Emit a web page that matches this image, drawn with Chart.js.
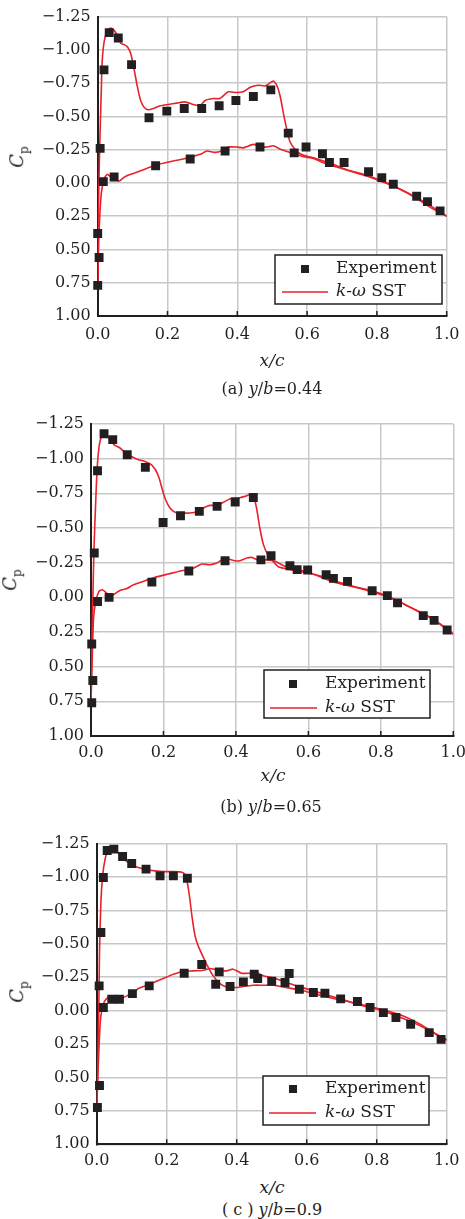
<!DOCTYPE html>
<html>
<head>
<meta charset="utf-8">
<script src="https://cdn.jsdelivr.net/npm/chart.js@4.4.1/dist/chart.umd.min.js"></script>
<style>
  body { margin: 0; background: #fff; width: 465px; height: 1219px; position: relative; overflow: hidden;
         font-family: "DejaVu Serif", serif; color: #231f20; }
  canvas { position: absolute; left: 0; display: block; }
  .t { position: absolute; white-space: nowrap; line-height: 1; transform: translate(-50%, -50%); }
  .cap { font-size: 16px; }
  .xt { font-size: 17px; font-style: italic; }
  .yt { font-size: 18px; transform: translate(-50%, -50%) rotate(-90deg); }
  .yt sub { font-size: 12px; font-style: normal; }
</style>
</head>
<body>
<canvas id="cA" width="465" height="350" style="top:0px"></canvas>
<canvas id="cB" width="465" height="370" style="top:400px"></canvas>
<canvas id="cC" width="465" height="352" style="top:820px"></canvas>

<div class="t yt" style="left:19px;top:157px"><i>C</i><sub>p</sub></div>
<div class="t xt" style="left:272px;top:360px">x/c</div>
<div class="t cap" style="left:272px;top:389px">(a) <i>y</i>/<i>b</i>=0.44</div>

<div class="t yt" style="left:12px;top:580px"><i>C</i><sub>p</sub></div>
<div class="t xt" style="left:273px;top:775px">x/c</div>
<div class="t cap" style="left:271px;top:807px">(b) <i>y</i>/<i>b</i>=0.65</div>

<div class="t yt" style="left:19px;top:992px"><i>C</i><sub>p</sub></div>
<div class="t xt" style="left:272px;top:1187px">x/c</div>
<div class="t cap" style="left:272px;top:1210px">( c ) <i>y</i>/<i>b</i>=0.9</div>

<script>
// axis ticks
const xTicks = [0, 0.2, 0.4, 0.6, 0.8, 1.0];
const yTicks = [-1.25, -1.0, -0.75, -0.5, -0.25, 0, 0.25, 0.5, 0.75, 1.0];
const legendLabels = ['Experiment', 'k-ω SST'];

// (a) y/b = 0.44
const expA_x  = [0.000, 0.004, 0.000, 0.007, 0.016, 0.018, 0.033, 0.047, 0.059, 0.097, 0.147, 0.166, 0.198, 0.248, 0.265, 0.298, 0.348, 0.365, 0.396, 0.446, 0.465, 0.496, 0.546, 0.563, 0.597, 0.644, 0.664, 0.706, 0.776, 0.814, 0.847, 0.914, 0.945, 0.981];
const expA_cp = [0.77, 0.56, 0.38, -0.26, -0.01, -0.85, -1.13, -0.045, -1.09, -0.89, -0.49, -0.13, -0.54, -0.56, -0.18, -0.56, -0.58, -0.24, -0.62, -0.65, -0.27, -0.70, -0.375, -0.226, -0.27, -0.22, -0.154, -0.154, -0.085, -0.04, 0.01, 0.10, 0.14, 0.21];
const upA_x  = [0, 0.001, 0.003, 0.006, 0.010, 0.013, 0.019, 0.028, 0.037, 0.047, 0.056, 0.066, 0.076, 0.086, 0.095, 0.104, 0.114, 0.123, 0.133, 0.145, 0.160, 0.179, 0.202, 0.226, 0.250, 0.274, 0.293, 0.308, 0.331, 0.350, 0.374, 0.398, 0.417, 0.437, 0.460, 0.480, 0.503, 0.513, 0.523, 0.532, 0.542, 0.551, 0.566, 0.580, 0.600, 0.618, 0.647, 0.675, 0.714, 0.762, 0.800, 0.838, 0.876, 0.914, 0.953, 1.0];
const upA_cp = [0.756, 0.445, 0.072, -0.30, -0.67, -0.92, -1.07, -1.147, -1.164, -1.147, -1.11, -1.05, -1.04, -1.02, -0.97, -0.86, -0.72, -0.62, -0.57, -0.55, -0.56, -0.58, -0.59, -0.60, -0.61, -0.59, -0.58, -0.62, -0.635, -0.635, -0.685, -0.68, -0.685, -0.72, -0.735, -0.73, -0.766, -0.735, -0.65, -0.525, -0.40, -0.31, -0.25, -0.22, -0.20, -0.19, -0.165, -0.14, -0.10, -0.065, -0.03, 0.01, 0.06, 0.11, 0.17, 0.25];
const loA_x  = [0, 0.003, 0.007, 0.012, 0.020, 0.028, 0.037, 0.050, 0.062, 0.074, 0.088, 0.102, 0.121, 0.145, 0.169, 0.207, 0.245, 0.274, 0.298, 0.312, 0.336, 0.355, 0.374, 0.398, 0.417, 0.446, 0.465, 0.484, 0.503, 0.522, 0.551, 0.570, 0.590, 0.618, 0.647, 0.685, 0.723, 0.771, 0.809, 0.847, 0.885, 0.924, 0.962, 1.0];
const loA_cp = [0.756, 0.445, 0.197, 0.047, -0.04, -0.065, -0.047, -0.027, -0.015, -0.04, -0.06, -0.072, -0.09, -0.114, -0.137, -0.16, -0.18, -0.20, -0.22, -0.24, -0.23, -0.24, -0.27, -0.27, -0.264, -0.29, -0.275, -0.27, -0.28, -0.256, -0.23, -0.214, -0.197, -0.184, -0.152, -0.12, -0.09, -0.052, -0.015, 0.022, 0.072, 0.134, 0.197, 0.25];

// (b) y/b = 0.65
const expB_x  = [0.002, 0.005, 0.002, 0.009, 0.018, 0.018, 0.036, 0.050, 0.060, 0.100, 0.150, 0.168, 0.199, 0.247, 0.270, 0.299, 0.348, 0.370, 0.398, 0.448, 0.469, 0.497, 0.549, 0.569, 0.598, 0.649, 0.669, 0.708, 0.776, 0.818, 0.846, 0.917, 0.947, 0.983];
const expB_cp = [0.76, 0.60, 0.336, -0.32, -0.913, 0.03, -1.18, 0.0, -1.137, -1.028, -0.937, -0.11, -0.54, -0.588, -0.19, -0.62, -0.656, -0.264, -0.687, -0.72, -0.27, -0.30, -0.228, -0.20, -0.197, -0.163, -0.137, -0.115, -0.048, -0.012, 0.04, 0.132, 0.166, 0.236];
const upB_x  = [0, 0.002, 0.005, 0.008, 0.013, 0.017, 0.023, 0.031, 0.040, 0.052, 0.066, 0.080, 0.094, 0.112, 0.131, 0.149, 0.167, 0.178, 0.188, 0.197, 0.206, 0.218, 0.232, 0.250, 0.273, 0.292, 0.310, 0.328, 0.347, 0.370, 0.388, 0.407, 0.425, 0.439, 0.448, 0.457, 0.466, 0.476, 0.488, 0.499, 0.517, 0.554, 0.600, 0.646, 0.692, 0.756, 0.802, 0.848, 0.894, 0.940, 1.0];
const upB_cp = [0.76, 0.39, 0.03, -0.33, -0.69, -0.93, -1.10, -1.172, -1.18, -1.137, -1.096, -1.077, -1.045, -1.016, -0.992, -0.98, -0.956, -0.92, -0.86, -0.776, -0.704, -0.644, -0.613, -0.608, -0.608, -0.615, -0.644, -0.663, -0.663, -0.692, -0.714, -0.716, -0.728, -0.742, -0.728, -0.644, -0.50, -0.38, -0.307, -0.27, -0.22, -0.198, -0.175, -0.144, -0.103, -0.055, -0.019, 0.029, 0.089, 0.149, 0.265];
const loB_x  = [0, 0.004, 0.007, 0.013, 0.022, 0.031, 0.043, 0.055, 0.066, 0.080, 0.098, 0.117, 0.144, 0.177, 0.213, 0.250, 0.273, 0.292, 0.306, 0.328, 0.347, 0.361, 0.379, 0.397, 0.411, 0.430, 0.443, 0.462, 0.485, 0.508, 0.535, 0.572, 0.618, 0.664, 0.720, 0.775, 0.821, 0.867, 0.913, 0.959, 1.0];
const loB_cp = [0.76, 0.39, 0.15, 0.03, -0.043, -0.055, -0.031, -0.007, -0.026, -0.05, -0.062, -0.09, -0.115, -0.144, -0.168, -0.192, -0.20, -0.223, -0.24, -0.235, -0.247, -0.27, -0.276, -0.264, -0.264, -0.283, -0.288, -0.27, -0.27, -0.26, -0.224, -0.20, -0.163, -0.115, -0.079, -0.048, -0.007, 0.053, 0.113, 0.185, 0.265];

// (c) y/b = 0.9
const expC_x  = [0.002, 0.008, 0.007, 0.012, 0.019, 0.019, 0.030, 0.043, 0.049, 0.065, 0.074, 0.100, 0.102, 0.141, 0.150, 0.181, 0.219, 0.250, 0.259, 0.300, 0.340, 0.350, 0.381, 0.419, 0.450, 0.460, 0.500, 0.538, 0.550, 0.579, 0.619, 0.652, 0.697, 0.745, 0.781, 0.819, 0.855, 0.897, 0.950, 0.984];
const expC_cp = [0.725, 0.56, -0.185, -0.584, -0.996, -0.023, -1.198, -0.085, -1.208, -0.085, -1.153, -1.10, -0.127, -1.058, -0.185, -1.008, -1.008, -0.28, -0.99, -0.345, -0.197, -0.29, -0.18, -0.215, -0.272, -0.24, -0.22, -0.21, -0.277, -0.16, -0.135, -0.13, -0.088, -0.068, -0.023, 0.015, 0.052, 0.102, 0.165, 0.215];
const upC_x  = [0, 0.003, 0.006, 0.008, 0.012, 0.017, 0.024, 0.033, 0.043, 0.052, 0.065, 0.078, 0.093, 0.114, 0.138, 0.167, 0.190, 0.214, 0.238, 0.250, 0.257, 0.265, 0.272, 0.281, 0.290, 0.305, 0.319, 0.333, 0.352, 0.371, 0.390, 0.419, 0.448, 0.476, 0.505, 0.543, 0.590, 0.638, 0.686, 0.733, 0.781, 0.829, 0.876, 0.924, 0.971, 1.0];
const upC_cp = [0.74, 0.44, -0.01, -0.434, -0.81, -1.01, -1.133, -1.208, -1.225, -1.208, -1.17, -1.133, -1.103, -1.075, -1.058, -1.045, -1.04, -1.04, -1.038, -1.025, -0.983, -0.858, -0.709, -0.559, -0.484, -0.397, -0.322, -0.26, -0.202, -0.177, -0.172, -0.18, -0.19, -0.19, -0.19, -0.172, -0.148, -0.115, -0.085, -0.06, -0.03, 0.002, 0.04, 0.102, 0.177, 0.22];
const loC_x  = [0, 0.004, 0.008, 0.012, 0.019, 0.028, 0.038, 0.050, 0.062, 0.076, 0.090, 0.105, 0.119, 0.138, 0.162, 0.190, 0.219, 0.248, 0.276, 0.305, 0.324, 0.343, 0.371, 0.390, 0.414, 0.438, 0.457, 0.476, 0.500, 0.543, 0.571, 0.619, 0.667, 0.714, 0.762, 0.810, 0.857, 0.905, 0.952, 1.0];
const loC_cp = [0.74, 0.44, 0.19, 0.04, -0.048, -0.09, -0.10, -0.08, -0.067, -0.097, -0.115, -0.135, -0.165, -0.185, -0.21, -0.24, -0.272, -0.295, -0.297, -0.302, -0.315, -0.305, -0.297, -0.31, -0.28, -0.28, -0.285, -0.26, -0.247, -0.21, -0.185, -0.148, -0.11, -0.073, -0.035, -0.005, 0.04, 0.09, 0.152, 0.22];

const INK = '#231f20';
const RED = '#e8222b';
const GRID = '#c8c8c8';
const SERIF = '"DejaVu Serif", serif';
const italicChars = 'kω';

const zip = (xs, ys) => xs.map((x, i) => ({ x: x, y: ys[i] }));

function drawRich(ctx, text, x, y) {
  let cx = x;
  for (const ch of text) {
    ctx.font = (italicChars.includes(ch) ? 'italic ' : '') + '17px ' + SERIF;
    ctx.fillText(ch, cx, y);
    cx += ctx.measureText(ch).width;
  }
}

// short dark ticks pointing up from the bottom axis
const innerTicks = {
  id: 'innerTicks',
  afterDraw(chart) {
    const ctx = chart.ctx;
    const xs = chart.scales.x;
    const bottom = chart.chartArea.bottom;
    ctx.save();
    ctx.strokeStyle = INK;
    ctx.lineWidth = 1.5;
    ctx.beginPath();
    xTicks.forEach(v => {
      const px = xs.getPixelForValue(v);
      ctx.moveTo(px, bottom);
      ctx.lineTo(px, bottom - 5);
    });
    ctx.stroke();
    ctx.restore();
  }
};

const boxLegend = {
  id: 'boxLegend',
  afterDraw(chart, args, o) {
    const ctx = chart.ctx;
    const ds = chart.data.datasets;
    ctx.save();
    ctx.fillStyle = '#fff';
    ctx.fillRect(o.x, o.y, o.w, o.h);
    ctx.strokeStyle = INK;
    ctx.lineWidth = 1.5;
    ctx.strokeRect(o.x, o.y, o.w, o.h);
    ctx.fillStyle = ds[0].backgroundColor;
    ctx.fillRect(o.markX - 4, o.row1 - 4, 8, 8);
    ctx.strokeStyle = ds[1].borderColor;
    ctx.lineWidth = 1.5;
    ctx.beginPath();
    ctx.moveTo(o.lineX0, o.row2);
    ctx.lineTo(o.lineX1, o.row2);
    ctx.stroke();
    ctx.fillStyle = INK;
    ctx.textBaseline = 'middle';
    ctx.textAlign = 'left';
    drawRich(ctx, ds[0].label, o.textX, o.row1);
    drawRich(ctx, ds[1].label, o.textX, o.row2);
    ctx.restore();
  }
};

function makePanel(id, p) {
  const lineSet = (xs, ys) => ({
    label: legendLabels[1], data: zip(xs, ys), showLine: true, pointRadius: 0,
    borderColor: RED, backgroundColor: RED, borderWidth: 1.6, tension: 0.2, fill: false
  });
  new Chart(document.getElementById(id), {
    type: 'scatter',
    data: {
      datasets: [
        { label: legendLabels[0], data: zip(p.expX, p.expCp), pointStyle: 'rect', pointRadius: 6.3,
          backgroundColor: INK, borderColor: INK, borderWidth: 0, clip: 10 },
        lineSet(p.upX, p.upCp),
        lineSet(p.loX, p.loCp)
      ]
    },
    plugins: [innerTicks, boxLegend],
    options: {
      responsive: false, animation: false, devicePixelRatio: 1,
      layout: { padding: { left: 0, right: 465 - p.right, top: p.top, bottom: 0 } },
      plugins: { legend: { display: false }, tooltip: { enabled: false }, boxLegend: p.legend },
      scales: {
        x: {
          type: 'linear', min: 0, max: 1, position: 'bottom',
          afterBuildTicks: s => { s.ticks = xTicks.map(v => ({ value: v })); },
          afterFit: s => { s.height = p.xh; s.paddingLeft = 0; s.paddingRight = 0; },
          ticks: { callback: v => v.toFixed(1), font: { family: SERIF, size: 16 }, color: INK,
                   padding: p.xpad, maxRotation: 0, autoSkip: false },
          grid: { color: GRID, lineWidth: 1.5, drawTicks: false },
          border: { color: INK, width: 2 }
        },
        y: {
          type: 'linear', min: -1.25, max: 1, reverse: true,
          afterBuildTicks: s => { s.ticks = yTicks.map(v => ({ value: v })); },
          afterFit: s => { s.width = p.left; s.paddingTop = 0; s.paddingBottom = 0; },
          ticks: { callback: v => (v < 0 ? '\u2212' : '') + Math.abs(v).toFixed(2),
                   font: { family: SERIF, size: 16 }, color: INK, padding: 7, autoSkip: false },
          grid: { color: GRID, lineWidth: 1.5, drawTicks: false },
          border: { color: INK, width: 2 }
        }
      }
    }
  });
}

makePanel('cA', {
  expX: expA_x, expCp: expA_cp, upX: upA_x, upCp: upA_cp, loX: loA_x, loCp: loA_cp,
  left: 97.7, right: 446.7, top: 16.7, xh: 34, xpad: 9.4,
  legend: { x: 275, y: 255, w: 167, h: 49, markX: 305, row1: 269, lineX0: 282, lineX1: 328, row2: 292, textX: 336 }
});
makePanel('cB', {
  expX: expB_x, expCp: expB_cp, upX: upB_x, upCp: upB_cp, loX: loB_x, loCp: loB_cp,
  left: 91, right: 453.3, top: 24, xh: 34, xpad: 7.2,
  legend: { x: 264, y: 270, w: 166, h: 48, markX: 293, row1: 284, lineX0: 270, lineX1: 317, row2: 308, textX: 325 }
});
makePanel('cC', {
  expX: expC_x, expCp: expC_cp, upX: upC_x, upCp: upC_cp, loX: loC_x, loCp: loC_cp,
  left: 96.7, right: 446.7, top: 23.5, xh: 27.7, xpad: 6.6,
  legend: { x: 263, y: 256, w: 166, h: 49, markX: 293, row1: 269, lineX0: 269, lineX1: 316, row2: 293, textX: 325 }
});
</script>
</body>
</html>
